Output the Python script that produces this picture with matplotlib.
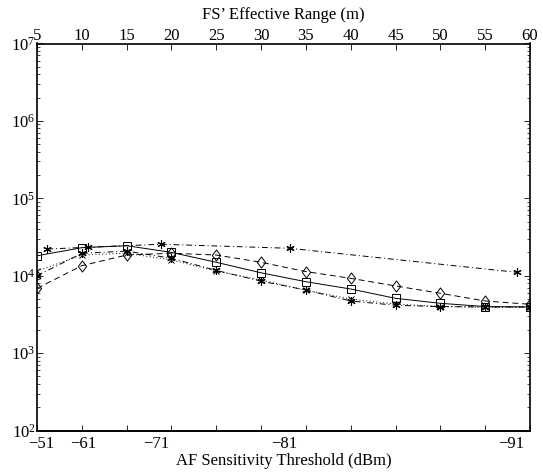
import matplotlib
matplotlib.use("Agg")
import matplotlib.pyplot as plt
from matplotlib.path import Path
import numpy as np

plt.rcParams['font.family'] = ['Liberation Serif', 'DejaVu Serif']
plt.rcParams['mathtext.fontset'] = 'custom'
plt.rcParams['mathtext.rm'] = 'Liberation Serif'
plt.rcParams['mathtext.it'] = 'Liberation Serif:italic'

# --- data ---
range_m = [5, 10, 15, 20, 25, 30, 35, 40, 45, 50, 55, 60]
range_ticks = [5, 10, 15, 20, 25, 30, 35, 40, 45, 50, 55, 60]
thr_labels = ['\u221251', '\u221261', '\u221271', '\u221281', '\u221291']
thr_pos = [5.5, 10.2, 18.3, 32.6, 57.9]

sq_vals = [18100, 23000, 24400, 20000, 14900, 10900, 8360, 6730, 5100, 4400, 3990, 3950]
dia_vals = [6870, 13460, 18500, 19500, 18500, 14900, 11300, 9250, 7370, 5930, 4710, 4270]
star_lo_vals = [10000, 19450, 20800, 16800, 11700, 8500, 6530, 4710, 4150, 3990, 3950, 3950]
x_vals = [11500, 18500, 19500, 16000, 11500, 8800, 6500, 5000, 4300, 4000, 3900, 3900]
star_hi_x = [6.15, 10.65, 18.85, 33.2, 58.5]
star_hi_vals = [22100, 23300, 25500, 22600, 11070]

FS = 12

fig = plt.figure(figsize=(5.43, 4.76), dpi=100)
ax = fig.add_axes([37/543, 1-430.5/476, (530-37)/543, (430.5-43.5)/476])
ax.set_yscale('log')
ax.set_xlim(5, 60)
ax.set_ylim(1e2, 1e7)

asterisk = (6, 2, 0)
diamond = Path([(0, 1), (0.75, 0), (0, -1), (-0.75, 0), (0, 1)],
               [Path.MOVETO, Path.LINETO, Path.LINETO, Path.LINETO, Path.CLOSEPOLY])
lw = 0.7
ax.plot(range_m, sq_vals, '-', color='k', lw=lw, marker='s', ms=5.5, mfc='none', mec='k', mew=0.7)
ax.plot(range_m, dia_vals, color='k', lw=lw, ls=(0, (6, 4)), marker=diamond, ms=8, mfc='none', mec='k', mew=0.7)
ax.plot(range_m, star_lo_vals, color='k', lw=lw, ls=(0, (6, 3, 1, 3)), marker=asterisk, ms=6, mec='k', mew=0.8)
ax.plot(range_m, x_vals, color='k', lw=lw, ls=(0, (1, 2.5)), marker='x', ms=4, mec='k', mew=0.7)
ax.plot(star_hi_x, star_hi_vals, color='k', lw=lw, ls=(0, (6, 3, 1, 3)), marker=asterisk, ms=6, mec='k', mew=0.8)

# top axis: range
ax.xaxis.tick_top()
ax.xaxis.set_label_position('top')
ax.set_xticks(range_ticks)
ax.set_xticklabels([str(v) for v in range_ticks])
ax.set_xlabel("FS\u2019 Effective Range (m)", fontsize=FS, labelpad=6)
ax.tick_params(axis='x', which='both', direction='in', top=True, bottom=True,
               labeltop=True, labelbottom=False, length=4, width=0.6, labelsize=FS, pad=0)
ax.tick_params(axis='y', which='major', direction='in', left=True, right=True, length=4, width=0.6,
               labelsize=FS, pad=1)
ax.tick_params(axis='y', which='minor', direction='in', left=True, right=True, length=2, width=0.5)
ax.yaxis.set_major_locator(matplotlib.ticker.LogLocator(base=10, numticks=10))
ax.yaxis.set_minor_locator(matplotlib.ticker.LogLocator(base=10, subs=np.arange(2, 10), numticks=10))
ax.yaxis.set_minor_formatter(matplotlib.ticker.NullFormatter())

for s in ax.spines.values():
    s.set_linewidth(1.2)

# bottom axis: threshold
sec = ax.secondary_xaxis('bottom')
sec.set_xticks(thr_pos)
sec.set_xticklabels(thr_labels)
sec.tick_params(length=0, labelsize=FS, pad=4)
sec.set_xlabel('AF Sensitivity Threshold (dBm)', fontsize=FS, labelpad=1)
sec.spines['bottom'].set_linewidth(1.2)

fig.savefig('out.png', dpi=100)
